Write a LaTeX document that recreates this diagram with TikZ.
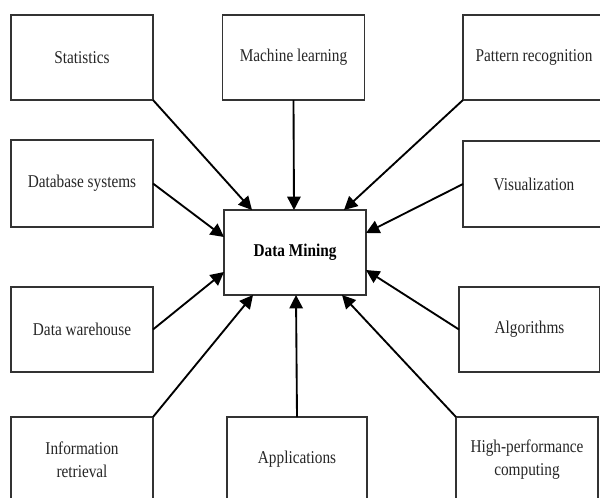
\documentclass[tikz,border=0pt]{standalone}
\usepackage{fontspec}
\setmainfont{Liberation Serif}[FakeStretch=0.85]
\usetikzlibrary{arrows.meta,calc}
\begin{document}
\begin{tikzpicture}[x=0.75pt,y=-0.75pt,
  topic/.style={draw=black!80,line width=1.4pt,fill=white,outer sep=0pt,
    minimum width=106.5pt,minimum height=63.75pt,align=center,text=black!85,
    font=\fontsize{13.5}{17}\selectfont},
  core/.style={topic,text=black,font=\fontsize{13.5}{17}\selectfont\bfseries},
  feed/.style={draw=black,line width=1.4pt,-{Triangle[length=10pt,width=10pt]}}]
\useasboundingbox (0,0) rectangle (600,497);
\clip (0,0) rectangle (600,497);

% surrounding disciplines
\node[topic] (stat) at (82,57.5)  {Statistics};
\node[topic] (ml)   at (293.5,57.5) {Machine learning};
\node[topic] (pr)   at (534,57.5) {Pattern recognition};
\node[topic,minimum height=65.25pt] (db)  at (82,183.5) {Database systems};
\node[topic,minimum height=64.5pt] (vis) at (534,184) {Visualization};
\node[topic] (dw)   at (82,329.5) {Data warehouse};
\node[topic,minimum width=105.75pt] (alg) at (529.5,329.5) {Algorithms};
\node[topic] (ir)   at (82,459.5) {Information\\retrieval};
\node[topic,minimum width=105pt] (app) at (297,459.5) {Applications};
\node[topic] (hpc)  at (527,459.5) {High-performance\\computing};

% central node
\node[core] (dm) at (295,252.5) {Data Mining};

% connectors into the centre
\draw[feed] (stat.south east) -- ($(dm.north west)+(28,0)$);
\draw[feed] (ml.south) -- ($(dm.north)+(-1,0)$);
\draw[feed] (pr.south west) -- ($(dm.north east)+(-22,0)$);
\draw[feed] (db.east) -- ($(dm.north west)+(0,27)$);
\draw[feed] (vis.west) -- ($(dm.north east)+(0,23)$);
\draw[feed] (dw.east) -- ($(dm.south west)+(0,-23)$);
\draw[feed] (alg.west) -- ($(dm.south east)+(0,-25)$);
\draw[feed] (ir.north east) -- ($(dm.south west)+(29,0)$);
\draw[feed] (app.north) -- ($(dm.south)+(1,0)$);
\draw[feed] (hpc.north west) -- ($(dm.south east)+(-24,0)$);
\end{tikzpicture}
\end{document}
